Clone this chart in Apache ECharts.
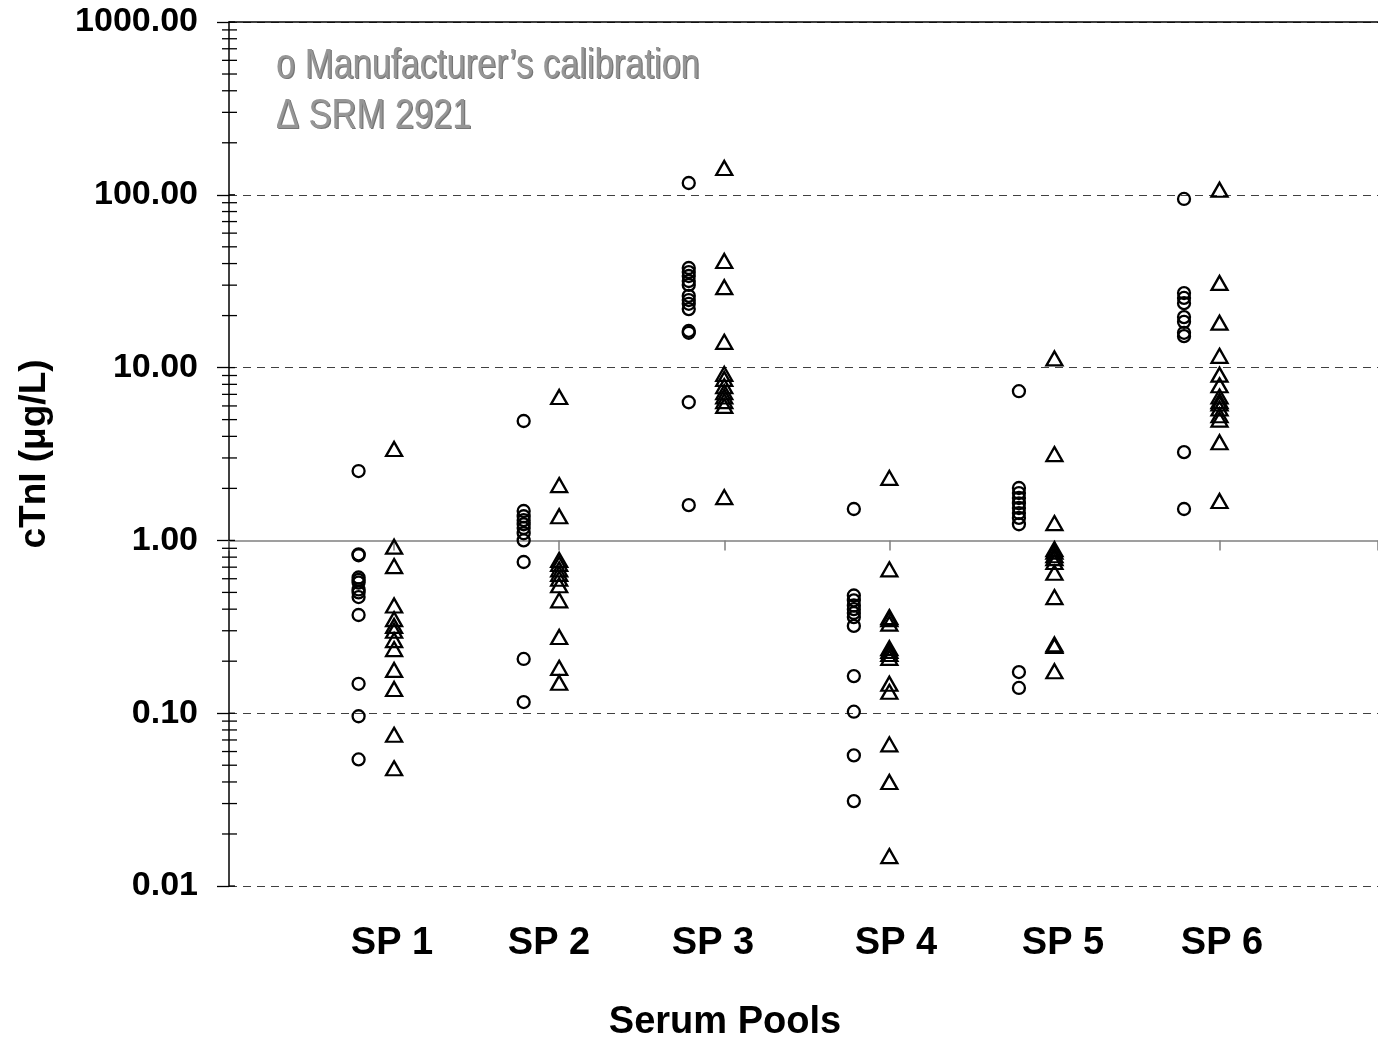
<!DOCTYPE html>
<html>
<head>
<meta charset="utf-8">
<script src="https://cdn.jsdelivr.net/npm/echarts@6/dist/echarts.min.js"></script>
<style>
  html, body { margin: 0; padding: 0; background: #fff; }
  #chart { width: 1378px; height: 1041px; }
</style>
</head>
<body>
<div id="chart"></div>
<script>
// ---- Data (cTnI, µg/L) ----
const pools = ['SP 1', 'SP 2', 'SP 3', 'SP 4', 'SP 5', 'SP 6'];

// Manufacturer's calibration (circles)
const mfrSP1 = [2.52, 0.83, 0.82, 0.61, 0.59, 0.57, 0.52, 0.50, 0.47, 0.37, 0.148, 0.096, 0.054];
const mfrSP2 = [4.91, 1.48, 1.38, 1.31, 1.24, 1.18, 1.10, 1.00, 0.75, 0.206, 0.116];
const mfrSP3 = [117, 37.7, 35.7, 33.9, 31.7, 30.1, 26.0, 24.6, 23.4, 21.8, 16.3, 15.9, 6.3, 1.60];
const mfrSP4 = [1.52, 0.48, 0.45, 0.42, 0.40, 0.38, 0.36, 0.32, 0.164, 0.102, 0.057, 0.031];
const mfrSP5 = [7.3, 2.01, 1.88, 1.76, 1.64, 1.54, 1.44, 1.35, 1.24, 0.173, 0.140];
const mfrSP6 = [94.6, 27.0, 25.3, 23.6, 19.6, 18.4, 15.9, 15.2, 3.24, 1.52];

// SRM 2921 (triangles)
const srmSP1 = [3.38, 0.92, 0.71, 0.42, 0.35, 0.32, 0.30, 0.265, 0.235, 0.178, 0.138, 0.075, 0.048];
const srmSP2 = [6.76, 2.09, 1.38, 0.77, 0.73, 0.68, 0.64, 0.60, 0.55, 0.45, 0.276, 0.183, 0.150];
const srmSP3 = [143, 41.4, 29.2, 14.1, 9.2, 8.6, 7.8, 7.2, 6.8, 6.4, 6.0, 1.78];
const srmSP4 = [2.30, 0.68, 0.36, 0.35, 0.33, 0.238, 0.229, 0.220, 0.209, 0.148, 0.133, 0.066, 0.040, 0.0149];
const srmSP5 = [11.3, 3.16, 1.26, 0.89, 0.86, 0.82, 0.79, 0.75, 0.65, 0.47, 0.25, 0.245, 0.175];
const srmSP6 = [107, 30.9, 18.2, 11.7, 9.1, 7.9, 6.8, 6.4, 6.2, 5.8, 5.3, 5.0, 3.7, 1.69];

const yTickMajors = [0.01, 0.1, 1, 10, 100, 1000];
const minorMultipliers = [2, 3, 4, 5, 6, 7, 8, 9];

// ---- Build series data ----
const mfrAll = [mfrSP1, mfrSP2, mfrSP3, mfrSP4, mfrSP5, mfrSP6];
const srmAll = [srmSP1, srmSP2, srmSP3, srmSP4, srmSP5, srmSP6];
const CIRCLE_SHIFT = 0.215;
const mfrData = [];
const srmData = [];
mfrAll.forEach((arr, i) => arr.forEach(v => mfrData.push([i + 1 - CIRCLE_SHIFT, v])));
srmAll.forEach((arr, i) => arr.forEach(v => srmData.push([i + 1, v])));

const tickData = [];
yTickMajors.forEach((d, k) => {
  tickData.push([0, d, 0]);
  if (k < yTickMajors.length - 1) minorMultipliers.forEach(m => tickData.push([0, d * m, 1]));
});

const FONT = '"Liberation Sans", Arial, "DejaVu Sans", sans-serif';
const GRID_LEFT = 229, GRID_TOP = 22, GRID_H = 864;
const X_MAX = 6.96;

const chart = echarts.init(document.getElementById('chart'), null, { renderer: 'canvas' });

function legendText(txt, x, y) {
  return [
    { type: 'text', x: x + 1.3, y: y + 1.5, scaleX: 0.82, silent: true, z: 10,
      style: { text: txt, fill: '#767676', font: '42px ' + FONT, textVerticalAlign: 'middle', verticalAlign: 'middle' } },
    { type: 'text', x: x, y: y, scaleX: 0.82, silent: true, z: 11,
      style: { text: txt, fill: '#969696', font: '42px ' + FONT, textVerticalAlign: 'middle', verticalAlign: 'middle' } }
  ];
}

const xLabelPos = [392, 549, 713, 896, 1063, 1222];
const graphics = [];
pools.forEach((p, i) => graphics.push({
  type: 'text', x: xLabelPos[i], y: 944, silent: true,
  style: { text: p, fill: '#000', font: 'bold 38px ' + FONT, align: 'center', verticalAlign: 'middle',
           textAlign: 'center', textVerticalAlign: 'middle' }
}));
graphics.push({
  type: 'text', x: 725, y: 1023, silent: true,
  style: { text: 'Serum Pools', fill: '#000', font: 'bold 38px ' + FONT, align: 'center', verticalAlign: 'middle',
           textAlign: 'center', textVerticalAlign: 'middle' }
});
graphics.push({
  type: 'text', x: 35, y: 454, rotation: Math.PI / 2, silent: true,
  style: { text: 'cTnI (\u03bcg/L)', fill: '#000', font: 'bold 37px ' + FONT, align: 'center', verticalAlign: 'middle',
           textAlign: 'center', textVerticalAlign: 'middle' }
});
graphics.push(...legendText('o Manufacturer\u2019s calibration', 276, 66));
graphics.push(...legendText('\u0394 SRM 2921', 276, 116));

const markerStyle = { color: 'rgba(0,0,0,0)', borderColor: '#000', borderWidth: 2.3, opacity: 1 };

const option = {
  animation: false,
  backgroundColor: '#fff',
  grid: [
    { left: GRID_LEFT, top: GRID_TOP, right: 0, height: GRID_H, containLabel: false },
    { left: GRID_LEFT, top: 540, right: 0, height: 1, containLabel: false }
  ],
  xAxis: [
    { gridIndex: 0, type: 'value', min: 0, max: X_MAX, position: 'top',
      axisLine: { show: true, lineStyle: { color: '#000', width: 1.5 } },
      axisTick: { show: false }, axisLabel: { show: false }, splitLine: { show: false } },
    { gridIndex: 1, type: 'value', min: 0, max: X_MAX, interval: 1, position: 'top',
      axisLine: { show: true, onZero: false, lineStyle: { color: '#808080', width: 1.5 } },
      axisTick: { show: true, inside: true, length: 10, lineStyle: { color: '#808080', width: 1.5 } },
      axisLabel: { show: false }, splitLine: { show: false } }
  ],
  yAxis: [
    { gridIndex: 0, type: 'log', logBase: 10, min: 0.01, max: 1000, splitNumber: 5,
      axisLine: { show: true, lineStyle: { color: '#000', width: 1.5 } },
      axisTick: { show: true, length: 12, lineStyle: { color: '#000', width: 1.3 } },
      minorTick: { show: false },
      axisLabel: { show: true, margin: 31, color: '#000', fontFamily: FONT, fontWeight: 'bold', fontSize: 34,
                   formatter: v => Number(v).toFixed(2) },
      splitLine: { show: true, lineStyle: { type: [8, 6], width: 1.2,
                   color: ['#404040', '#404040', 'rgba(0,0,0,0)', '#404040', '#404040', '#404040'] } } },
    { gridIndex: 1, type: 'value', show: false }
  ],
  graphic: graphics,
  series: [
    { type: 'custom', name: 'ticks', xAxisIndex: 0, yAxisIndex: 0, clip: false, silent: true, z: 5,
      data: tickData,
      renderItem: (params, api) => {
        const p = api.coord([api.value(0), api.value(1)]);
        const minor = api.value(2) === 1;
        return { type: 'line',
          shape: { x1: p[0] - (minor ? 7 : 0), y1: p[1], x2: p[0] + (minor ? 8 : 6), y2: p[1] },
          style: { stroke: '#000', lineWidth: 1.3 } };
      } },
    { type: 'scatter', name: "Manufacturer's calibration", xAxisIndex: 0, yAxisIndex: 0,
      symbol: 'circle', symbolSize: 12, itemStyle: markerStyle, data: mfrData, z: 6 },
    { type: 'scatter', name: 'SRM 2921', xAxisIndex: 0, yAxisIndex: 0,
      symbol: 'triangle', symbolSize: [16, 14], itemStyle: markerStyle, data: srmData, z: 6 }
  ]
};

chart.setOption(option);
// place the crossing axis at y = 1 using the log scale itself
const yOne = chart.convertToPixel({ yAxisIndex: 0 }, 1);
chart.setOption({ grid: [{}, { top: yOne }] });
</script>
</body>
</html>
